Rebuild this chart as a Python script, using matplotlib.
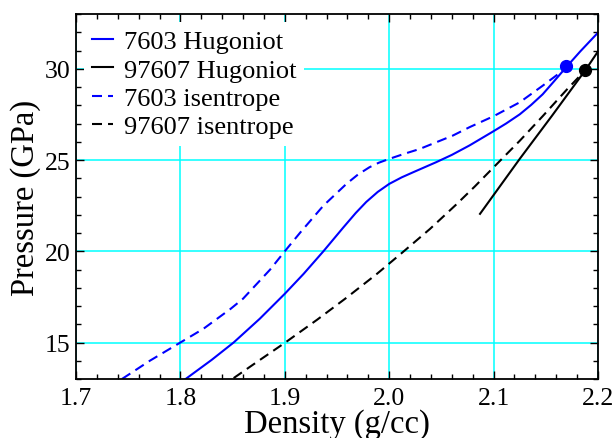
import matplotlib
matplotlib.use('Agg')
import matplotlib.pyplot as plt
from matplotlib.ticker import MultipleLocator

plt.rcParams['font.family'] = ['Liberation Serif', 'DejaVu Serif']

# 7603 Hugoniot
h7603_x = [1.805, 1.830, 1.851, 1.876, 1.900, 1.918, 1.937, 1.956, 1.968, 1.978,
           1.989, 2.000, 2.012, 2.023, 2.045, 2.060, 2.077, 2.100, 2.112, 2.125,
           2.136, 2.147, 2.158, 2.169, 2.183, 2.200]
h7603_y = [13.0, 14.05, 15.0, 16.3, 17.67, 18.76, 20.0, 21.3, 22.1, 22.7,
           23.25, 23.69, 24.05, 24.33, 24.88, 25.28, 25.8, 26.58, 27.0, 27.5,
           28.02, 28.6, 29.32, 30.05, 30.95, 31.98]

# 97607 Hugoniot
h97607_x = [2.087, 2.125, 2.156, 2.188, 2.200]
h97607_y = [22.05, 25.06, 27.43, 29.93, 30.95]

# 7603 isentrope
i7603_x = [1.744, 1.771, 1.800, 1.822, 1.848, 1.860, 1.873, 1.886, 1.900, 1.915,
           1.937, 1.959, 1.970, 1.981, 1.990, 2.000, 2.015, 2.029, 2.061, 2.077,
           2.100, 2.125, 2.147, 2.164, 2.169]
i7603_y = [13.0, 14.01, 15.0, 15.75, 16.84, 17.4, 18.2, 19.0, 20.0, 21.04,
           22.5, 23.69, 24.2, 24.6, 24.85, 25.06, 25.35, 25.6, 26.34, 26.8,
           27.4, 28.16, 29.07, 29.8, 30.17]

# 97607 isentrope
i97607_x = [1.851, 1.875, 1.900, 1.931, 1.959, 1.988, 2.013, 2.039, 2.064, 2.082,
            2.100, 2.125, 2.147, 2.170, 2.188]
i97607_y = [13.05, 14.0, 14.98, 16.25, 17.45, 18.75, 19.95, 21.22, 22.55, 23.55,
            24.6, 26.05, 27.4, 28.85, 29.93]

# end points (dots)
dot_x = [2.169, 2.188]
dot_y = [30.17, 29.93]

fig = plt.figure(figsize=(6.16, 4.39), dpi=100)
ax = fig.add_axes([76/616, 1 - 380/439, 522/616, 365/439])

dash = (0, (4.8, 2.9))
ax.plot(h7603_x, h7603_y, color='#0000ff', lw=1.5, label='7603 Hugoniot')
ax.plot(h97607_x, h97607_y, color='black', lw=1.5, label='97607 Hugoniot')
ax.plot(i7603_x, i7603_y, color='#0000ff', lw=1.5, ls=dash, label='7603 isentrope')
ax.plot(i97607_x, i97607_y, color='black', lw=1.5, ls=dash, label='97607 isentrope')
ax.plot(dot_x[0], dot_y[0], 'o', color='#0000ff', ms=8.5, zorder=5)
ax.plot(dot_x[1], dot_y[1], 'o', color='black', ms=8.5, zorder=5)

ax.set_xlim(1.7, 2.2)
ax.set_ylim(13, 33)
ax.xaxis.set_minor_locator(MultipleLocator(0.02))
ax.yaxis.set_minor_locator(MultipleLocator(1))
ax.set_yticks([15, 20, 25, 30])
ax.set_xticks([1.7, 1.8, 1.9, 2.0, 2.1, 2.2])
ax.set_xticklabels(['1.7', '1.8', '1.9', '2.0', '2.1', '2.2'])

ax.grid(True, which='major', color='#00ffff', lw=1.1)
ax.set_axisbelow(True)
ax.tick_params(which='both', direction='in', top=True, right=True, labelsize=18.5)
ax.tick_params(which='major', length=6, width=1)
ax.tick_params(which='minor', length=3.5, width=1)
ax.tick_params(axis='x', pad=6)
ax.tick_params(axis='y', pad=4)
for s in ax.spines.values():
    s.set_linewidth(1.3)

ax.set_xlabel('Density (g/cc)', fontsize=23.5, labelpad=-1)
ax.set_ylabel('Pressure (GPa)', fontsize=23.5, labelpad=3)

leg = ax.legend(loc='upper left', bbox_to_anchor=(0.0, 1.0), fontsize=19,
                frameon=True, edgecolor='none', facecolor='white', framealpha=1,
                fancybox=False, handlelength=0.8, handletextpad=0.4,
                labelspacing=0.18, borderpad=0.3, borderaxespad=0.3)

fig.savefig('out.png', dpi=100)
